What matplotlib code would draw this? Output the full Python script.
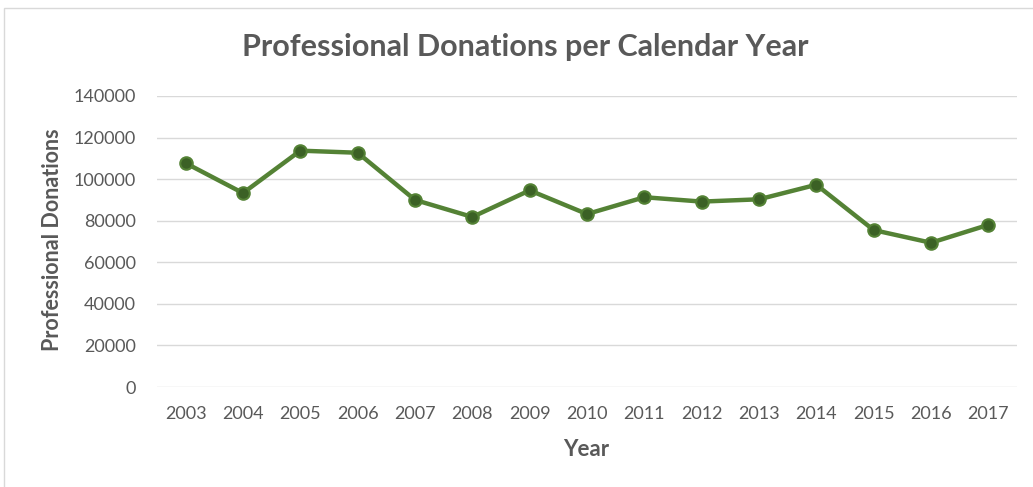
import matplotlib.pyplot as plt
from matplotlib.patches import Rectangle

years = ['2003', '2004', '2005', '2006', '2007', '2008', '2009', '2010',
         '2011', '2012', '2013', '2014', '2015', '2016', '2017']
donations = [107700, 93300, 113700, 112700, 90000, 81800, 94600, 83200,
             91300, 89200, 90300, 97300, 75500, 69400, 78000]
y_ticks = [0, 20000, 40000, 60000, 80000, 100000, 120000, 140000]

plt.rcParams['font.family'] = ['Lato', 'DejaVu Sans']
txt = '#595959'

fig = plt.figure(figsize=(10.33, 4.87), dpi=100)
fig.patches.append(Rectangle((4 / 1033, -0.1), 1.2, 1.1 - 8 / 487 + 0.0,
                             transform=fig.transFigure, fill=False,
                             edgecolor='#d9d9d9', linewidth=1))

ax = fig.add_axes([157 / 1033, 1 - 387 / 487, 860 / 1033, 291 / 487])
x = list(range(len(years)))
ax.plot(x, donations, color='#548235', linewidth=3.2, marker='o',
        markersize=9, markerfacecolor='#3b6125', markeredgecolor='#548235',
        markeredgewidth=1.5, zorder=3)

ax.set_xlim(-0.5, len(years) - 0.5)
ax.set_ylim(0, 140000)
ax.set_yticks(y_ticks)
ax.set_yticklabels([str(v) for v in y_ticks])
ax.set_xticks(x)
ax.set_xticklabels(years)
ax.grid(axis='y', color='#d9d9d9', linewidth=1)
ax.set_axisbelow(True)
for s in ax.spines.values():
    s.set_visible(False)
ax.tick_params(length=0, colors=txt, labelsize=13)
ax.tick_params(axis='x', pad=14)
ax.tick_params(axis='y', pad=15)

fig.text(525 / 1033, 1 - 47 / 487, 'Professional Donations per Calendar Year',
         ha='center', va='center', fontsize=22, fontweight='bold', color=txt)
fig.text(53 / 1033, 1 - 240 / 487, 'Professional Donations', rotation=90,
         ha='center', va='center', fontsize=15.5, fontweight='bold', color=txt)
fig.text(586 / 1033, 1 - 449 / 487, 'Year', ha='center', va='center',
         fontsize=16, fontweight='bold', color=txt)

fig.savefig('out.png', dpi=100)
